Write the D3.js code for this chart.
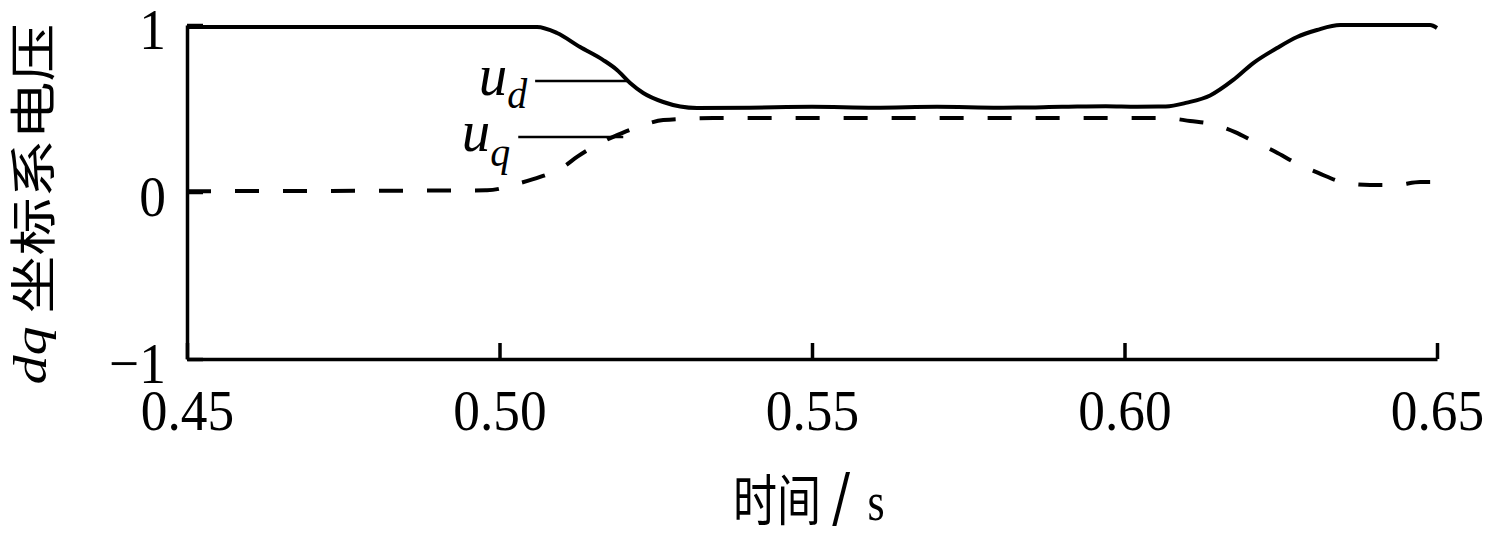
<!DOCTYPE html>
<html>
<head>
<meta charset="utf-8">
<script src="https://cdn.jsdelivr.net/npm/d3@7"></script>
<style>
  body { margin: 0; background: #fff; }
  .axis path, .axis line { stroke: #000; stroke-width: 3.5; }
  .axis text { font-family: "Liberation Serif", serif; font-size: 58px; fill: #000; }
</style>
</head>
<body>
<svg class="chart" width="1487" height="534"></svg>
<script>
// u_d curve (solid)
var tD = [0.450, 0.506, 0.5092, 0.5129, 0.5166, 0.5188, 0.5209, 0.5230, 0.5262, 0.5316,
          0.540, 0.550, 0.560, 0.570, 0.580, 0.590, 0.597, 0.602, 0.6066,
          0.610, 0.6137, 0.6174, 0.6206, 0.6244, 0.6276, 0.6308, 0.6345, 0.6489, 0.650];
var uD = [0.988, 0.988, 0.952, 0.868, 0.790, 0.731, 0.653, 0.593, 0.539, 0.503,
          0.505, 0.510, 0.505, 0.510, 0.505, 0.510, 0.514, 0.511, 0.512,
          0.535, 0.578, 0.671, 0.772, 0.862, 0.928, 0.970, 1.000, 1.000, 0.982];
// u_q curve (dashed)
var tQ = [0.450, 0.498, 0.5033, 0.5065, 0.5102, 0.5124, 0.5161, 0.5196, 0.5230, 0.5262, 0.5342,
          0.6066, 0.6105, 0.6142, 0.6177, 0.6209, 0.6242, 0.6274, 0.6310, 0.6354, 0.6393, 0.6434, 0.6473, 0.650];
var uQ = [0.005, 0.010, 0.054, 0.090, 0.150, 0.210, 0.293, 0.353, 0.401, 0.431, 0.443,
          0.443, 0.425, 0.405, 0.359, 0.299, 0.240, 0.174, 0.114, 0.054, 0.042, 0.042, 0.060, 0.060];

var xTicks = [0.45, 0.50, 0.55, 0.60, 0.65];
var yTicks = [1, 0, -1];

var svg = d3.select('.chart');

var x = d3.scaleLinear().domain([0.45, 0.65]).range([187, 1437]);
var y = d3.scaleLinear().domain([-1, 1]).range([359, 25]);

// axes
var xAxis = svg.append('g')
  .attr('class', 'axis')
  .attr('transform', 'translate(0,' + y(-1) + ')')
  .call(d3.axisBottom(x).tickValues(xTicks).tickSize(-16).tickSizeOuter(0)
    .tickPadding(30).tickFormat(d3.format('.2f')));
xAxis.selectAll('text').attr('transform', 'scale(0.92,1)');

var yAxis = svg.append('g')
  .attr('class', 'axis')
  .attr('transform', 'translate(' + x(0.45) + ',0)')
  .call(d3.axisLeft(y).tickValues(yTicks).tickSize(-16).tickSizeOuter(0)
    .tickPadding(23).tickFormat(d3.format('d')));
yAxis.selectAll('text').attr('dy', '0.4em').attr('transform', 'scale(0.92,1)');

// curves
var line = d3.line()
  .x(function(d) { return x(d[0]); })
  .y(function(d) { return y(d[1]); })
  .curve(d3.curveMonotoneX);

svg.append('path')
  .datum(d3.zip(tD, uD))
  .attr('d', line)
  .attr('fill', 'none')
  .attr('stroke', '#000')
  .attr('stroke-width', 4);

svg.append('path')
  .datum(d3.zip(tQ, uQ))
  .attr('d', line)
  .attr('fill', 'none')
  .attr('stroke', '#000')
  .attr('stroke-width', 4)
  .attr('stroke-dasharray', '24,24');

// labels with leader lines
var leaders = [
  { sub: 'd', t0: 0.5057, t1: 0.5204, v: 0.665, dy: 13 },
  { sub: 'q', t0: 0.5030, t1: 0.5198, v: 0.329, dy: 15 }
];
leaders.forEach(function(l) {
  svg.append('line')
    .attr('x1', x(l.t0)).attr('x2', x(l.t1))
    .attr('y1', y(l.v)).attr('y2', y(l.v))
    .attr('stroke', '#000').attr('stroke-width', 2.5);
  var lab = svg.append('g')
    .attr('transform', 'translate(' + (x(l.t0) - 8) + ',' + (y(l.v) + 14) + ') scale(0.95,1)')
    .append('text')
    .attr('text-anchor', 'end')
    .style('font-family', '"Liberation Serif", serif')
    .style('font-style', 'italic');
  lab.append('tspan').style('font-size', '60px').text('u');
  lab.append('tspan').style('font-size', '42px').attr('dy', l.dy).text(l.sub);
});

// axis titles
var xt = svg.append('g')
  .attr('transform', 'translate(733,520) scale(0.8,1)')
  .append('text')
  .style('font-size', '55px');
xt.append('tspan').style('font-family', '"Noto Sans CJK SC"').text('时间');
xt.append('tspan').style('font-family', '"DejaVu Serif", serif').attr('dx', 14).style('font-size', '66px').text('/');
xt.append('tspan').style('font-family', '"Liberation Serif", serif').attr('dx', 22).text('s');

var yt = svg.append('g')
  .attr('transform', 'translate(30,204) rotate(-90) scale(1,0.8)')
  .append('text')
  .attr('text-anchor', 'middle')
  .attr('dominant-baseline', 'central')
  .style('font-size', '58px');
yt.append('tspan').style('font-family', '"Liberation Serif", serif').style('font-style', 'italic').text('dq');
yt.append('tspan').style('font-family', '"Noto Sans CJK SC"').text(' 坐标系电压');
</script>
</body>
</html>
